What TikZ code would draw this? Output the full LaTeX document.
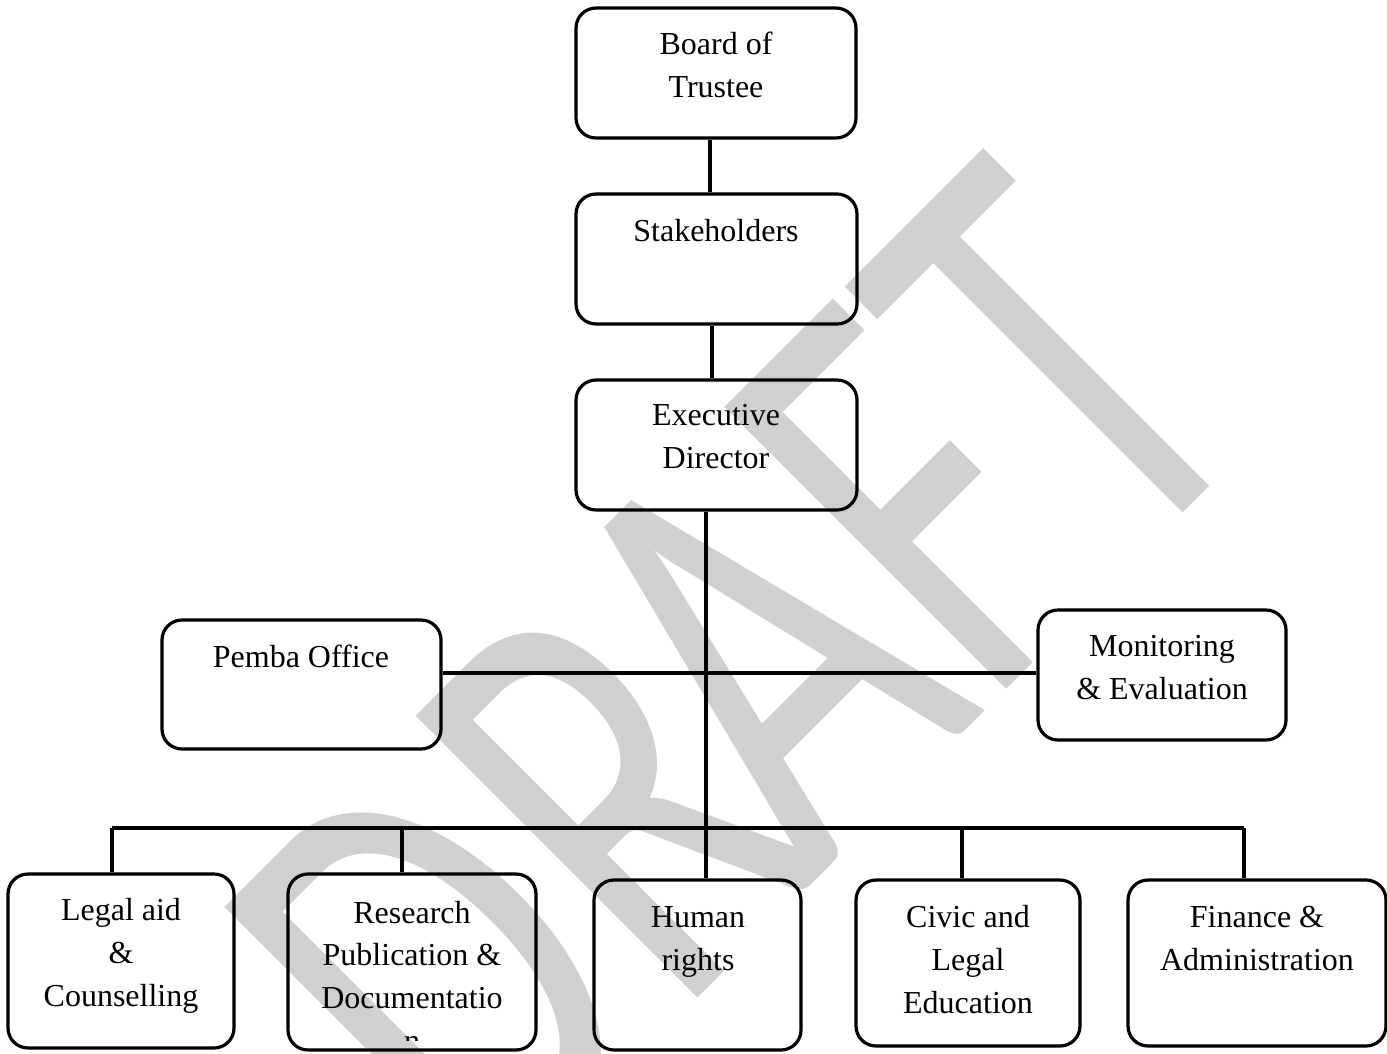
\documentclass[tikz,border=0pt]{standalone}
\usepackage{fontspec}
\setmainfont{Liberation Serif}
\newfontfamily\wmfont{Carlito}
\definecolor{wmgray}{HTML}{D0D0D0}
\tikzset{
  box/.style={draw=black, line width=2.4pt, rounded corners=15pt, rectangle, inner sep=0pt},
  lbl/.style={inner sep=0pt, align=center, anchor=base, font=\fontsize{24}{32}\selectfont},
  conn/.style={draw=black, line width=2.4pt},
  wm/.style={text=wmgray, inner sep=0pt, font=\wmfont\fontsize{466}{466}\selectfont}
}
\begin{document}
\begin{tikzpicture}[x=0.75pt,y=-0.75pt]
\useasboundingbox (0,0) rectangle (1387,1053);
% watermark
\node[wm, rotate=45, xscale=0.68, transform shape, anchor=base] (wmark) at (877.5,818.5) {D\kern11pt R\kern-41pt AFT};
% boxes
\node[box, minimum width=280*0.75pt, minimum height=130*0.75pt] (board) at (716,73) {};
\node[box, minimum width=281*0.75pt, minimum height=130*0.75pt] (stake) at (716.5,259) {};
\node[box, minimum width=281*0.75pt, minimum height=130*0.75pt] (exec) at (716.5,445) {};
\node[box, minimum width=279*0.75pt, minimum height=129*0.75pt] (pemba) at (301.5,684.5) {};
\node[box, minimum width=248*0.75pt, minimum height=130*0.75pt] (monit) at (1162,675) {};
\node[box, minimum width=226*0.75pt, minimum height=174*0.75pt] (legal) at (121,961) {};
\node[box, minimum width=248*0.75pt, minimum height=176*0.75pt] (research) at (412,962) {};
\node[box, minimum width=207*0.75pt, minimum height=170*0.75pt] (human) at (697.5,965) {};
\node[box, minimum width=224*0.75pt, minimum height=166*0.75pt] (civic) at (968,963) {};
\node[box, minimum width=258*0.75pt, minimum height=166*0.75pt] (finance) at (1257,963) {};
% labels (anchor = baseline of last line)
\node[lbl] (board-t) at (716,97) {Board of\\Trustee};
\node[lbl] (stake-t) at (716,241) {Stakeholders};
\node[lbl] (exec-t) at (716,468) {Executive\\Director};
\node[lbl] (pemba-t) at (301,667) {Pemba Office};
\node[lbl] (monit-t) at (1162,699) {Monitoring\\\& Evaluation};
\node[lbl] (legal-t) at (121,1006) {Legal aid\\\&\\Counselling};
\begin{scope}
\clip (288,874) rectangle (536,1040);
\node[lbl] (research-t) at (412,1051) {Research\\Publication \&\\Documentatio\\n};
\end{scope}
\node[lbl] (human-t) at (698,970) {Human\\rights};
\node[lbl] (civic-t) at (968,1013) {Civic and\\Legal\\Education};
\node[lbl] (finance-t) at (1257,970) {Finance \&\\Administration};
% helper coordinates
\coordinate (v1) at (710,0);
\coordinate (v2) at (712,0);
\coordinate (ex) at (706,0);
\coordinate (j1) at (706,673);
\coordinate (dl) at (112,828);
\coordinate (dr) at (402,828);
\coordinate (dc) at (962,828);
\coordinate (df) at (1244,828);
% connectors
\draw[conn] (v1 |- board.south) -- (v1 |- stake.north);
\draw[conn] (v2 |- stake.south) -- (v2 |- exec.north);
\draw[conn] (ex |- exec.south) -- (ex |- human.north);
\draw[conn] (pemba.east |- j1) -- (monit.west |- j1);
\draw[conn] (dl) -- (df);
\draw[conn] (dl) -- (dl |- legal.north);
\draw[conn] (dr) -- (dr |- research.north);
\draw[conn] (dc) -- (dc |- civic.north);
\draw[conn] (df) -- (df |- finance.north);
\end{tikzpicture}
\end{document}
